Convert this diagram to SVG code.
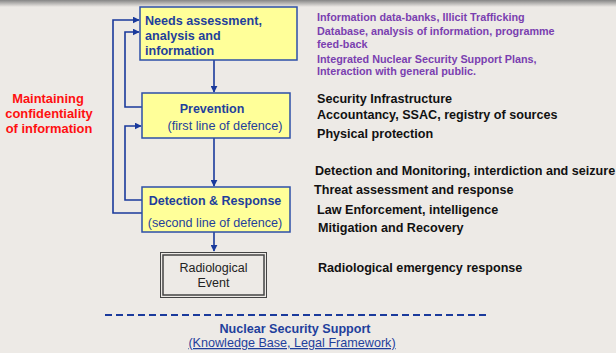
<svg xmlns="http://www.w3.org/2000/svg" width="616" height="353" viewBox="0 0 616 353">
<defs>
<linearGradient id="topShade" x1="0" y1="0" x2="0" y2="1">
<stop offset="0" stop-color="#858585"/>
<stop offset="1" stop-color="#edeae6"/>
</linearGradient>
<marker id="arr" viewBox="0 0 10 10" refX="9" refY="5" markerWidth="7" markerHeight="7" markerUnits="userSpaceOnUse" orient="auto">
<path d="M0,0 L10,5 L0,10 z" fill="#1a3a9c"/>
</marker>
<style>
.box{fill:#ffff99;stroke:#2d4fa8;stroke-width:1.5}
.conn{fill:none;stroke:#1a3a9c;stroke-width:1.6}
.bt{font-family:"Liberation Sans",Arial,sans-serif;font-weight:bold;fill:#1f3f9c}
.nt{font-family:"Liberation Sans",Arial,sans-serif;fill:#1f3f9c}
.pt{font-family:"Liberation Sans",Arial,sans-serif;font-weight:bold;font-size:10.8px;fill:#7a3fb0}
.kt{font-family:"Liberation Sans",Arial,sans-serif;font-weight:bold;font-size:12.6px;fill:#111}
.rt{font-family:"Liberation Sans",Arial,sans-serif;font-weight:bold;font-size:12.9px;fill:#ff1010}
</style>
</defs>
<rect width="616" height="353" fill="#edeae6"/>
<rect width="616" height="7" fill="url(#topShade)"/>

<g id="connectors">
<line class="conn" x1="214" y1="52" x2="214" y2="92" marker-end="url(#arr)"/>
<line class="conn" x1="214" y1="138" x2="214" y2="186" marker-end="url(#arr)"/>
<line class="conn" x1="214" y1="232" x2="214" y2="251" marker-end="url(#arr)"/>
<polyline class="conn" points="142,213 113,213 113,20 139,20" marker-end="url(#arr)"/>
<polyline class="conn" points="142,107 125,107 125,32 139,32" marker-end="url(#arr)"/>
<polyline class="conn" points="142,200 125,200 125,126 141,126" marker-end="url(#arr)"/>
<line x1="105" y1="315" x2="490" y2="315" stroke="#1a3a9c" stroke-width="2" stroke-dasharray="7,4"/>
</g>

<g id="needs">
<rect class="box" x="140" y="7" width="157" height="53"/>
<text class="bt" font-size="12.6px" x="145" y="25">Needs assessment,</text>
<text class="bt" font-size="12.6px" x="145" y="40">analysis and</text>
<text class="bt" font-size="12.6px" x="145" y="55">information</text>
</g>

<g id="prevention">
<rect class="box" x="142" y="93" width="148" height="45"/>
<text class="bt" font-size="12.5px" x="212" y="113" text-anchor="middle">Prevention</text>
<text class="nt" font-size="12.7px" x="225" y="130" text-anchor="middle">(first line of defence)</text>
</g>

<g id="detection">
<rect class="box" x="142" y="187" width="148" height="45"/>
<text class="bt" font-size="12.5px" x="215" y="205" text-anchor="middle">Detection &amp; Response</text>
<text class="nt" font-size="12.6px" x="215" y="227" text-anchor="middle">(second line of defence)</text>
</g>

<g id="event">
<rect x="160.5" y="252.5" width="106" height="45" fill="none" stroke="#444" stroke-width="1"/>
<rect x="163" y="255" width="101" height="40" fill="none" stroke="#444" stroke-width="1.5"/>
<text font-family="'Liberation Sans',Arial,sans-serif" font-size="12.5px" fill="#222" x="213.5" y="272" text-anchor="middle">Radiological</text>
<text font-family="'Liberation Sans',Arial,sans-serif" font-size="12.5px" fill="#222" x="213.5" y="287" text-anchor="middle">Event</text>
</g>

<g id="confidentiality">
<text class="rt" x="48" y="103" text-anchor="middle">Maintaining</text>
<text class="rt" x="49" y="118" text-anchor="middle">confidentiality</text>
<text class="rt" x="49" y="133" text-anchor="middle">of information</text>
</g>

<g id="info-notes">
<text class="pt" x="317" y="21">Information data-banks, Illicit Trafficking</text>
<text class="pt" x="317" y="35">Database, analysis of information, programme</text>
<text class="pt" x="317" y="48">feed-back</text>
<text class="pt" x="317" y="63">Integrated Nuclear Security Support Plans,</text>
<text class="pt" x="317" y="75">Interaction with general public.</text>
</g>

<g id="prevention-notes">
<text class="kt" x="317" y="103">Security Infrastructure</text>
<text class="kt" x="317" y="119">Accountancy, SSAC, registry of sources</text>
<text class="kt" x="317" y="138">Physical protection</text>
</g>

<g id="detection-notes">
<text class="kt" x="315" y="175">Detection and Monitoring, interdiction and seizure</text>
<text class="kt" x="314" y="194">Threat assessment and response</text>
<text class="kt" x="317" y="214">Law Enforcement, intelligence</text>
<text class="kt" x="318" y="232">Mitigation and Recovery</text>
</g>

<g id="event-notes">
<text class="kt" x="318" y="272">Radiological emergency response</text>
</g>

<g id="support">
<text class="bt" font-size="12.6px" x="295" y="333" text-anchor="middle">Nuclear Security Support</text>
<text class="nt" font-size="12.6px" x="292" y="347" text-anchor="middle" text-decoration="underline">(Knowledge Base, Legal Framework)</text>
</g>
</svg>
